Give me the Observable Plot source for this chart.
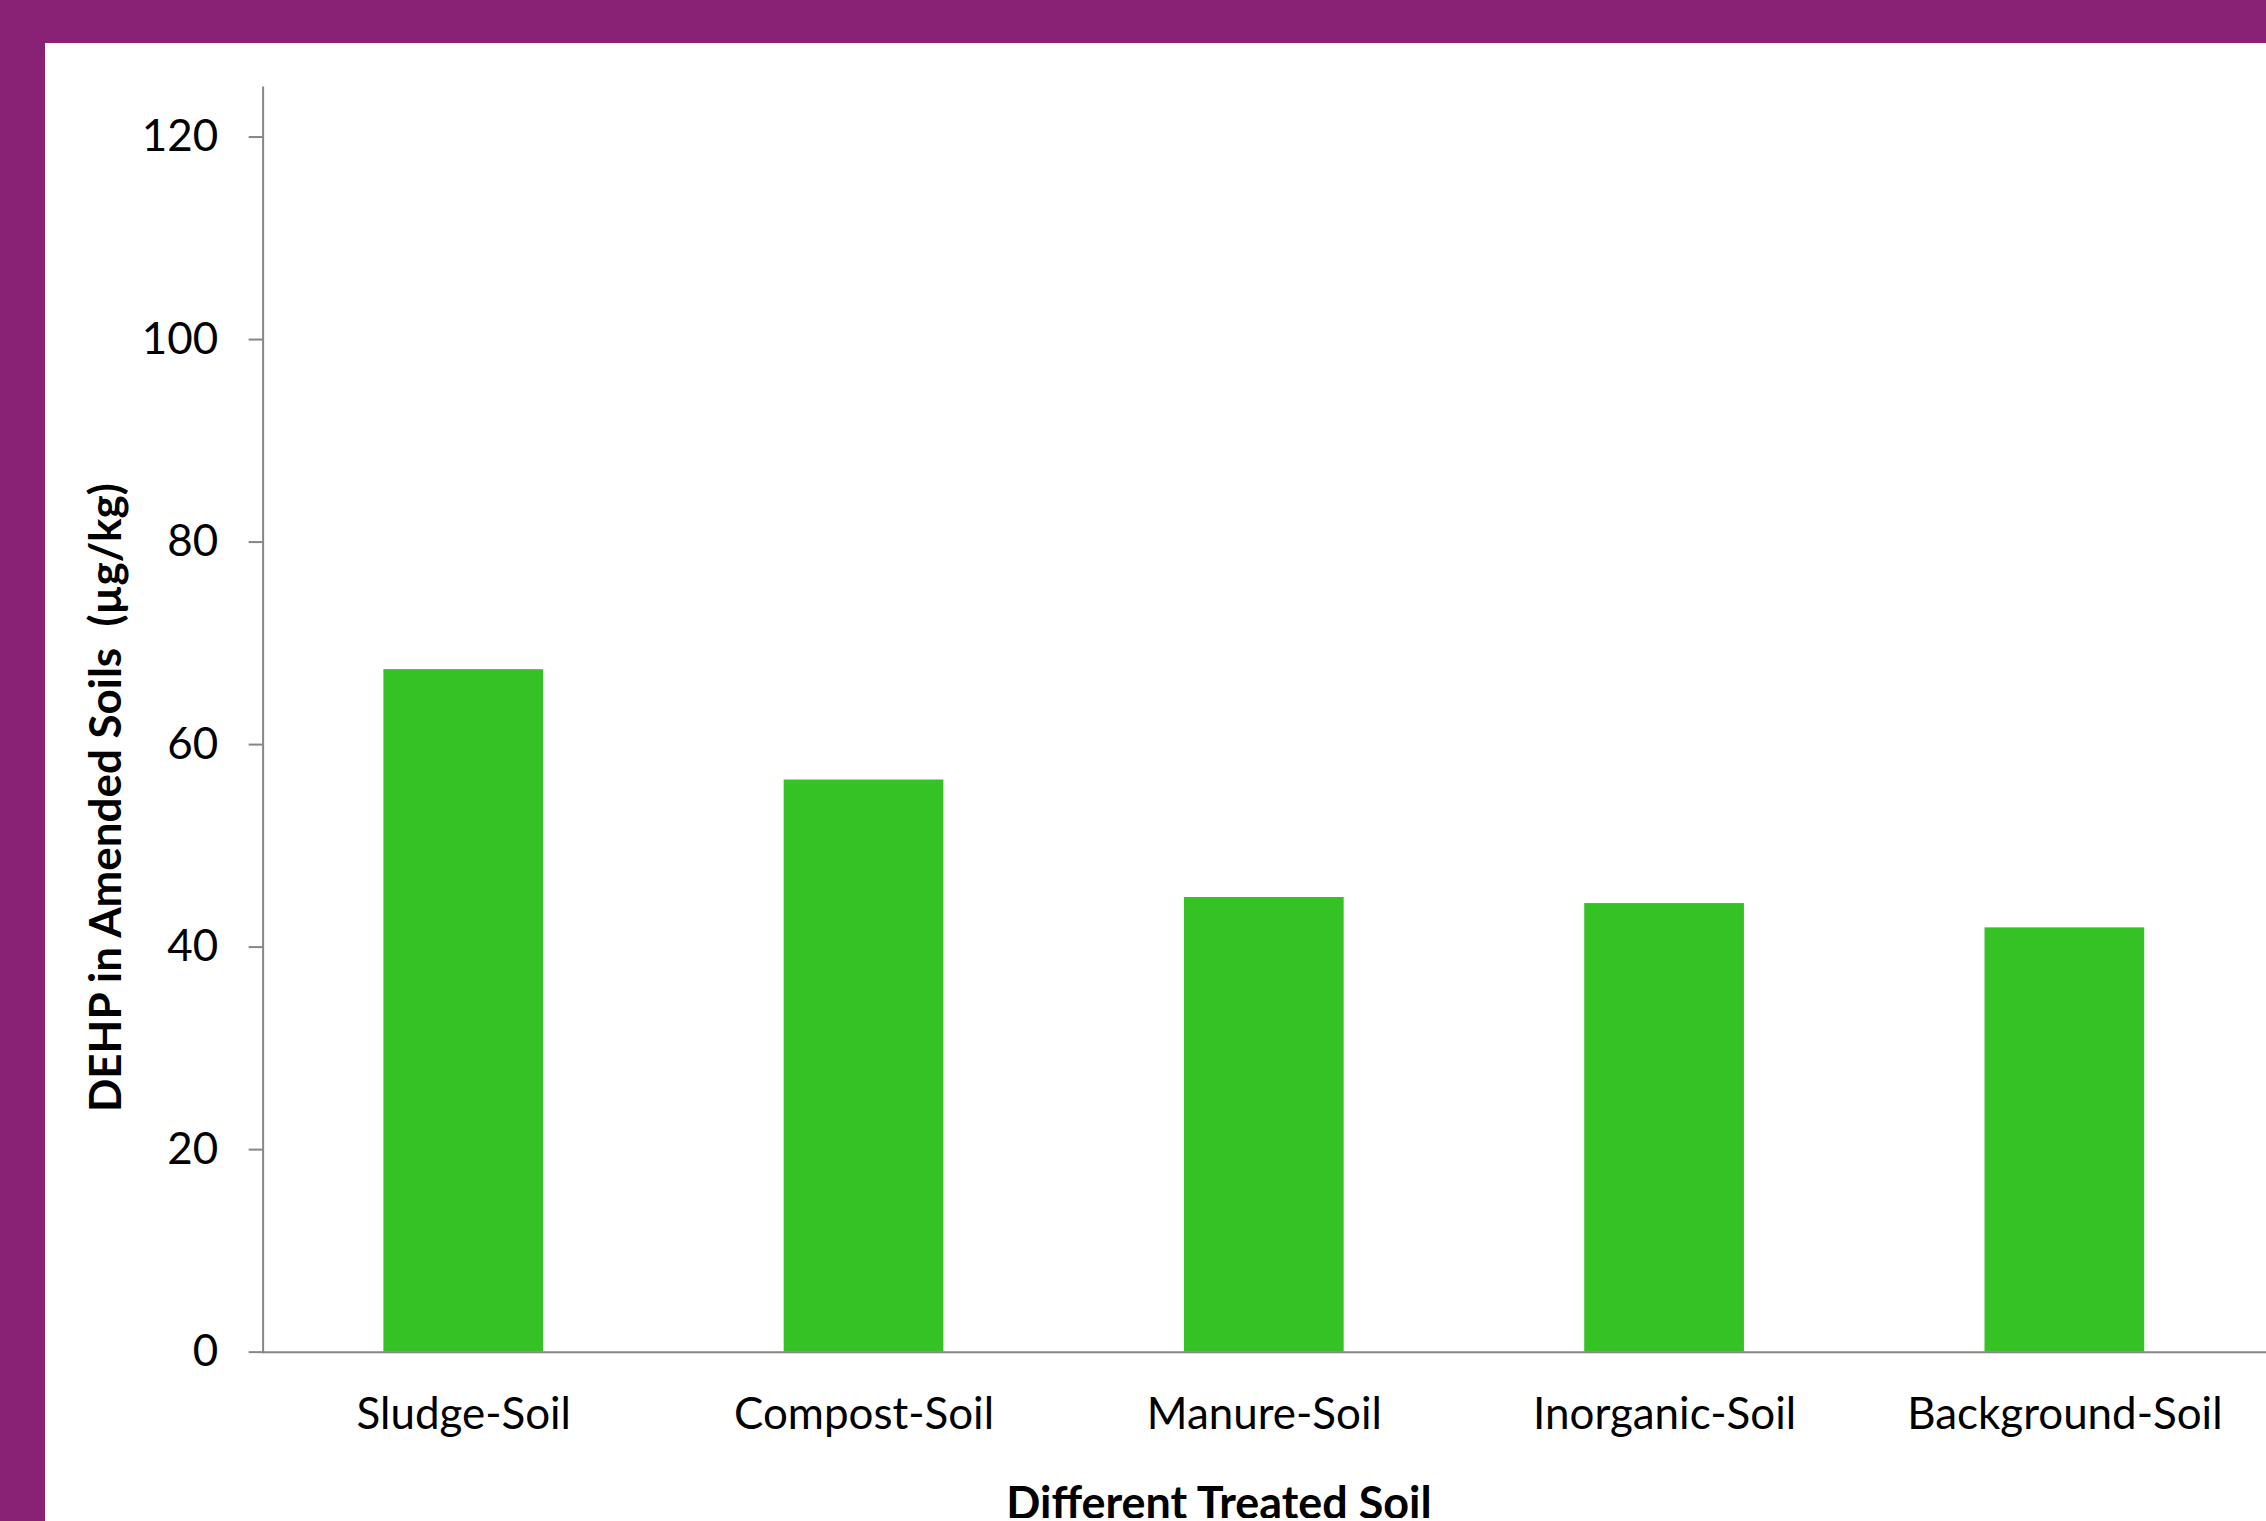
<!DOCTYPE html>
<html><head><meta charset="utf-8">
<script src="https://cdn.jsdelivr.net/npm/d3@7"></script>
<script src="https://cdn.jsdelivr.net/npm/@observablehq/plot@0.6"></script>
<style>
html,body{margin:0;padding:0;background:#892174;overflow:hidden;width:2266px;height:1521px}
#panel{position:absolute;left:45px;top:43px;width:2221px;height:1478px;background:#fff;overflow:hidden}
#panel svg{overflow:hidden}
</style></head><body><div id="panel"></div>
<script>
const categories = ["Sludge-Soil","Compost-Soil","Manure-Soil","Inorganic-Soil","Background-Soil"];
const values = [67.4, 56.5, 44.9, 44.3, 41.9];
const yTicks = [0, 20, 40, 60, 80, 100, 120];
const yLabel = "DEHP in Amended Soils\u00a0 (µg/kg)";
const xLabel = "Different Treated Soil";

const data = categories.map((c, i) => ({category: c, value: values[i]}));

const chart = Plot.plot({
  width: 2225, height: 1478,
  marginLeft: 218, marginRight: 0, marginTop: 44, marginBottom: 167,
  style: {fontFamily: "Lato", background: "white", color: "black", overflow: "hidden"},
  x: {domain: categories, paddingInner: 0.6, paddingOuter: 0.3},
  y: {domain: [0, 124.9]},
  marks: [
    Plot.barY(data, {x: "category", y: "value", fill: "#34C224"}),
    Plot.axisY({ticks: yTicks, tickSize: 14, tickPadding: 31, fontSize: 44, stroke: "#868686", fill: "black", strokeWidth: 2, label: null, tickFormat: d => String(d)}),
    Plot.axisX({tickSize: 0, tickPadding: 46, fontSize: 44, fill: "black", label: null}),
    Plot.frame({anchor: "left", stroke: "#868686", strokeWidth: 2}),
    Plot.ruleY([0], {stroke: "#868686", strokeWidth: 2}),
    Plot.text([yLabel], {frameAnchor: "left", text: d => d, rotate: -90, dx: -156, dy: 78, fontSize: 44, fontWeight: "bold", textAnchor: "middle", lineAnchor: "middle", fill: "black"}),
    Plot.text([xLabel], {frameAnchor: "bottom", text: d => d, dx: -46, dy: 135, fontSize: 45, fontWeight: "bold", lineAnchor: "top", fill: "black"})
  ]
});
document.getElementById("panel").appendChild(chart);
</script>
</body></html>
